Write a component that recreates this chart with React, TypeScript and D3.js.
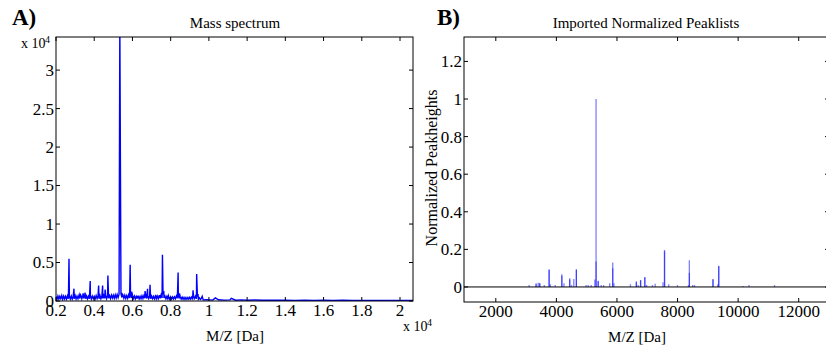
import * as d3 from "d3";
import React, { useEffect, useRef } from "react";

// Panel A: raw spectrum (m/z in Da, intensity in counts)
// noisy baseline band under the peaks
const bandA = [
  [2000, 600], [2050, 200], [2100, 650], [2150, 250], [2200, 620], [2250, 300], [2300, 700], [2350, 220],
  [2400, 650], [2450, 280], [2500, 600], [2550, 250], [2600, 680], [2650, 300], [2700, 640], [2750, 260],
  [2800, 650], [2850, 250], [2900, 600], [2950, 280], [3000, 700], [3050, 260], [3100, 640], [3150, 300],
  [3200, 700], [3250, 320], [3300, 750], [3350, 300], [3400, 720], [3450, 330], [3500, 680], [3550, 300],
  [3600, 650], [3650, 280], [3700, 620], [3750, 300], [3800, 700], [3850, 260], [3900, 640], [3950, 300],
  [4000, 600], [4050, 280], [4100, 700], [4150, 320], [4200, 680], [4250, 300], [4300, 720], [4350, 300],
  [4400, 650], [4450, 320], [4500, 720], [4550, 340], [4600, 680], [4650, 300], [4700, 750], [4750, 350],
  [4800, 700], [4850, 320], [4900, 760], [4950, 380], [5000, 750], [5050, 350], [5100, 800], [5150, 400],
  [5200, 850], [5250, 450], [5300, 900], [5400, 950], [5450, 450], [5500, 800], [5550, 350], [5600, 750],
  [5650, 330], [5700, 700], [5750, 350], [5800, 800], [5850, 400], [5900, 850], [5950, 380], [6000, 750],
  [6050, 320], [6100, 650], [6150, 280], [6200, 600], [6250, 300], [6300, 640], [6350, 280], [6400, 600],
  [6450, 300], [6500, 680], [6550, 320], [6600, 700], [6650, 350], [6700, 720], [6750, 330], [6800, 700],
  [6850, 340], [6900, 650], [6950, 300], [7000, 640], [7050, 300], [7100, 600], [7150, 280], [7200, 620],
  [7250, 300], [7300, 650], [7350, 300], [7400, 700], [7450, 350], [7500, 800], [7550, 400], [7600, 850],
  [7650, 380], [7700, 650], [7750, 300], [7800, 600], [7850, 280], [7900, 560], [7950, 250], [8000, 550],
  [8050, 260], [8100, 520], [8150, 250], [8200, 540], [8250, 300], [8300, 650], [8350, 350], [8400, 750],
  [8450, 320], [8500, 560], [8550, 250], [8600, 500], [8650, 220], [8700, 480], [8750, 200], [8800, 460],
  [8850, 230], [8900, 450], [8950, 220], [9000, 480], [9050, 250], [9100, 520], [9150, 300], [9200, 600],
  [9250, 320], [9300, 620], [9350, 300], [9400, 560], [9450, 240], [9500, 420], [9550, 200], [9600, 320],
  [9700, 150],
];
const tailA = [
  [9900, 180], [10200, 120], [10500, 160], [10800, 110], [11100, 150], [11400, 100], [11700, 140],
  [12000, 100], [12400, 130], [12800, 90], [13200, 120], [13600, 90], [14000, 110], [14500, 80],
  [15000, 100], [15500, 80], [16000, 95], [16500, 70], [17000, 90], [17500, 70], [18000, 85],
  [18500, 65], [19000, 80], [19500, 60], [20000, 75], [20680, 60],
];
const peaksA = [
  [2680, 5500], [2940, 1600], [3260, 900], [3420, 1000], [3520, 1100], [3790, 2600], [4230, 2000],
  [4440, 2000], [4570, 1500], [4715, 3300], [5340, 36000], [5470, 900], [5880, 4700], [5960, 1200],
  [6260, 600], [6660, 1300], [6790, 1600], [6920, 2100], [7210, 800], [7420, 700], [7570, 6000],
  [7640, 1300], [7880, 700], [8390, 3700], [8460, 1000], [9170, 1400], [9360, 3500], [9430, 900],
  [9650, 600], [10340, 400], [11170, 350],
];

// Panel B: two imported normalized peaklists (m/z, normalized height)
const peaklist1 = [
  [3100, 0.01], [3330, 0.02], [3400, 0.022], [3450, 0.02], [3600, 0.01], [3760, 0.094], [3800, 0.015],
  [3960, 0.01], [4180, 0.067], [4250, 0.02], [4440, 0.046], [4500, 0.01], [4575, 0.042], [4660, 0.095],
  [4980, 0.01], [5050, 0.01], [5150, 0.01], [5270, 0.04], [5310, 1.0], [5380, 0.033], [5480, 0.01],
  [5560, 0.01], [5760, 0.02], [5860, 0.13], [5900, 0.02], [6445, 0.015], [6640, 0.03], [6700, 0.01],
  [6780, 0.037], [6920, 0.053], [6980, 0.01], [7170, 0.01], [7260, 0.017], [7520, 0.025], [7570, 0.197],
  [7710, 0.015], [7996, 0.01], [8360, 0.01], [8390, 0.142], [8500, 0.01], [8560, 0.01], [9170, 0.042],
  [9330, 0.015], [9360, 0.113], [10160, 0.005], [10360, 0.01], [11200, 0.01],
];
const peaklist2 = [
  [3330, 0.015], [3450, 0.02], [3760, 0.09], [4180, 0.06], [4440, 0.04], [4660, 0.09], [5310, 0.135],
  [5380, 0.03], [5860, 0.1], [6640, 0.025], [6780, 0.035], [6920, 0.05], [7570, 0.19], [8390, 0.075],
  [9170, 0.04], [9360, 0.11],
];

const xTicksA = [0.2, 0.4, 0.6, 0.8, 1, 1.2, 1.4, 1.6, 1.8, 2];
const yTicksA = [0, 0.5, 1, 1.5, 2, 2.5, 3];
const xTicksB = [2000, 4000, 6000, 8000, 10000, 12000];
const yTicksB = [0, 0.2, 0.4, 0.6, 0.8, 1, 1.2];

const FONT = "'Liberation Serif', 'Times New Roman', serif";
const BLUE = "#0000ff";

const App = () => {
  const svgRef = useRef(null);

  useEffect(() => {
    const svg = d3.select(svgRef.current);
    svg.selectAll("*").remove();

    const TL = 4; // tick length, inward

    const drawFrame = (g, x, y, xt, yt, xv, yv) => {
      const [x0, x1] = x.range();
      const [y0, y1] = y.range(); // y0 bottom, y1 top
      g.append("rect")
        .attr("x", x0).attr("y", y1)
        .attr("width", x1 - x0).attr("height", y0 - y1)
        .attr("fill", "none").attr("stroke", "#000").attr("stroke-width", 1);
      xt.forEach((t) => {
        const px = x(xv(t));
        g.append("line").attr("x1", px).attr("x2", px).attr("y1", y0).attr("y2", y0 - TL).attr("stroke", "#000");
        g.append("line").attr("x1", px).attr("x2", px).attr("y1", y1).attr("y2", y1 + TL).attr("stroke", "#000");
        g.append("text")
          .attr("x", px).attr("y", y0 + 15)
          .attr("text-anchor", "middle")
          .attr("font-family", FONT).attr("font-size", 17)
          .text(String(t));
      });
      yt.forEach((t) => {
        const py = y(yv(t));
        g.append("line").attr("x1", x0).attr("x2", x0 + TL).attr("y1", py).attr("y2", py).attr("stroke", "#000");
        g.append("line").attr("x1", x1).attr("x2", x1 - TL).attr("y1", py).attr("y2", py).attr("stroke", "#000");
        g.append("text")
          .attr("x", x0 - 2).attr("y", py)
          .attr("dy", "0.35em")
          .attr("text-anchor", "end")
          .attr("font-family", FONT).attr("font-size", 17)
          .text(String(t));
      });
    };

    // ---------- Panel A ----------
    const xA = d3.scaleLinear().domain([2000, 20680]).range([56, 413]);
    const yA = d3.scaleLinear().domain([0, 34300]).range([301, 37]);

    svg.append("clipPath").attr("id", "clipA")
      .append("rect").attr("x", 56).attr("y", 37).attr("width", 357).attr("height", 264);

    const spectrum = [...bandA, ...peaksA, ...tailA].sort((a, b) => a[0] - b[0]);
    const gA = svg.append("g");
    gA.append("path")
      .datum(spectrum)
      .attr("clip-path", "url(#clipA)")
      .attr("fill", "none")
      .attr("stroke", BLUE)
      .attr("stroke-width", 1.4)
      .attr("d", d3.line().x((d) => xA(d[0])).y((d) => yA(d[1])));

    drawFrame(gA, xA, yA, xTicksA, yTicksA, (t) => t * 1e4, (t) => t * 1e4);

    gA.append("text").attr("x", 12).attr("y", 25)
      .attr("font-family", FONT).attr("font-size", 23).attr("font-weight", "bold").text("A)");
    gA.append("text").attr("x", 235).attr("y", 28).attr("text-anchor", "middle")
      .attr("font-family", FONT).attr("font-size", 15).text("Mass spectrum");
    gA.append("text").attr("x", 235).attr("y", 341).attr("text-anchor", "middle")
      .attr("font-family", FONT).attr("font-size", 15).text("M/Z [Da]");
    // exponent labels
    gA.append("text").attr("x", 21).attr("y", 48)
      .attr("font-family", FONT).attr("font-size", 14).text("x 10");
    gA.append("text").attr("x", 45).attr("y", 43)
      .attr("font-family", FONT).attr("font-size", 10).text("4");
    gA.append("text").attr("x", 403).attr("y", 331)
      .attr("font-family", FONT).attr("font-size", 14).text("x 10");
    gA.append("text").attr("x", 427).attr("y", 326)
      .attr("font-family", FONT).attr("font-size", 10).text("4");

    // ---------- Panel B ----------
    const xB = d3.scaleLinear().domain([950, 13000]).range([464, 829]);
    const yB = d3.scaleLinear().domain([-0.08, 1.33]).range([302, 37]);

    svg.append("clipPath").attr("id", "clipB")
      .append("rect").attr("x", 464).attr("y", 37).attr("width", 365).attr("height", 265);

    const gB = svg.append("g");
    const stems = gB.append("g").attr("clip-path", "url(#clipB)");
    [peaklist1, peaklist2].forEach((list) => {
      stems.selectAll(null)
        .data(list)
        .enter()
        .append("line")
        .attr("x1", (d) => xB(d[0])).attr("x2", (d) => xB(d[0]))
        .attr("y1", yB(0)).attr("y2", (d) => yB(d[1]))
        .attr("stroke", BLUE)
        .attr("stroke-opacity", 0.5)
        .attr("stroke-width", 1.3);
    });
    gB.append("line")
      .attr("x1", 464).attr("x2", 829)
      .attr("y1", yB(0)).attr("y2", yB(0))
      .attr("stroke", "#000").attr("stroke-width", 1);

    drawFrame(gB, xB, yB, xTicksB, yTicksB, (t) => t, (t) => t);

    gB.append("text").attr("x", 437).attr("y", 25)
      .attr("font-family", FONT).attr("font-size", 23).attr("font-weight", "bold").text("B)");
    gB.append("text").attr("x", 646).attr("y", 28).attr("text-anchor", "middle")
      .attr("font-family", FONT).attr("font-size", 15).text("Imported Normalized Peaklists");
    gB.append("text").attr("x", 637).attr("y", 342).attr("text-anchor", "middle")
      .attr("font-family", FONT).attr("font-size", 15).text("M/Z [Da]");
    gB.append("text")
      .attr("transform", "translate(437,168) rotate(-90)")
      .attr("text-anchor", "middle")
      .attr("font-family", FONT).attr("font-size", 16)
      .text("Normalized Peakheights");
  }, []);

  return (
    <svg
      ref={svgRef}
      width="826"
      height="351"
      style={{ position: "absolute", left: 0, top: 0, background: "#fff" }}
    ></svg>
  );
};

export default App;
